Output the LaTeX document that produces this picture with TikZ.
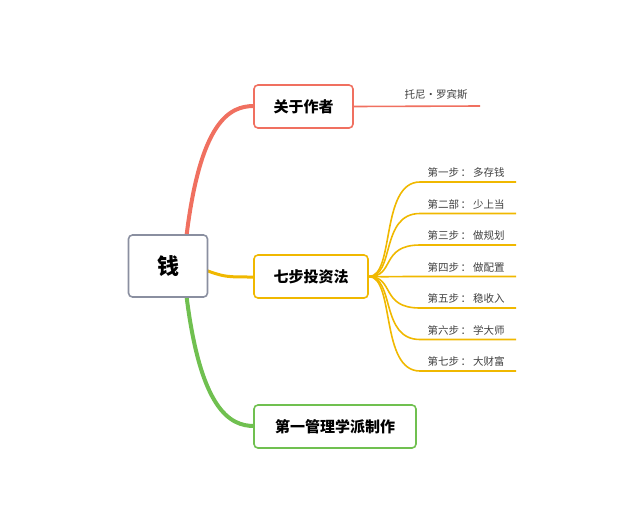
\documentclass[tikz,border=0pt]{standalone}
\usepackage{fontspec}
\setmainfont{Noto Sans CJK SC}
\begin{document}
\begin{tikzpicture}[x=1pt,y=-1pt,
  box/.style={draw,rounded corners=4pt,line width=1.6pt,fill=white,font=\bfseries\fontsize{15}{17}\selectfont,inner sep=0pt},
  leaf/.style={font=\fontsize{10.5}{12}\selectfont,text=black!75,anchor=south,inner sep=1pt}]
\definecolor{cr}{HTML}{F07060}\definecolor{cg}{HTML}{F0B800}\definecolor{cl}{HTML}{70C050}\definecolor{cb}{HTML}{8A8FA0}
\useasboundingbox (0,0) rectangle (640,512);
\draw[cr,line width=4pt] (186,240) .. controls (200,120) and (230,106) .. (254,106);
\draw[cl,line width=4pt] (186,292) .. controls (200,410) and (230,426) .. (254,426);
\draw[cg,line width=3pt] (205,270) .. controls (225,277) .. (254,277);
\node[box,draw=cb,minimum width=79pt,minimum height=62pt,font=\bfseries\fontsize{22}{24}\selectfont] (root) at (168,266) {钱};
\node[box,draw=cr,minimum width=99pt,minimum height=43pt] (a) at (303.5,106.5) {关于作者};
\node[box,draw=cg,minimum width=114pt,minimum height=43pt] (b) at (311,276.5) {七步投资法};
\node[box,draw=cl,minimum width=162pt,minimum height=43pt] (c) at (335,426.5) {第一管理学派制作};
\coordinate (ae) at (480,106);
\draw[cr,line width=1.6pt] (a.east) -- (ae);
\node[leaf] (an) at (436,101) {托尼·罗宾斯};
\foreach \t/\u [count=\i] in {第一步/多存钱,第二部/少上当,第三步/做规划,第四步/做配置,第五步/稳收入,第六步/学大师,第七步/大财富}{
  \pgfmathsetmacro{\yy}{182+(\i-1)*31.5}
  \coordinate (s\i) at (516,\yy);
  \draw[cg,line width=1.6pt] (b.east) .. controls (395,277) and (380,\yy) .. (420,\yy) -- (s\i);
  \node[leaf] (t\i) at (466,\yy-3) {\t\,：\,\u};
}
\end{tikzpicture}
\end{document}
